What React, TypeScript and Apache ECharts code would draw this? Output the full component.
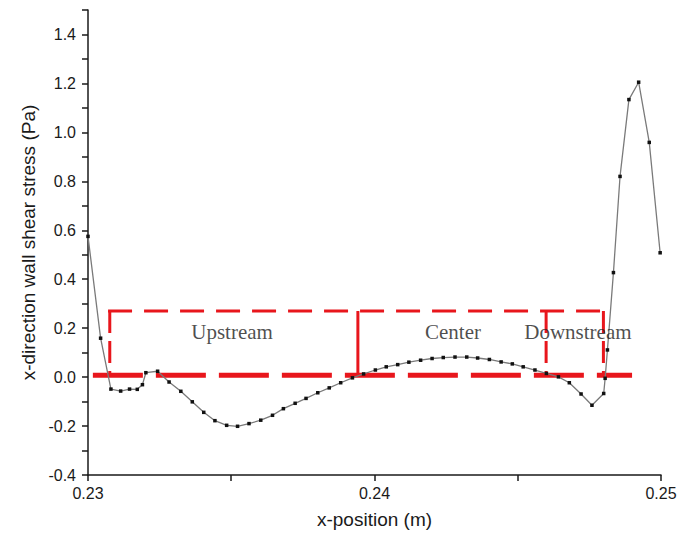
import React, { useEffect, useRef } from "react";
import * as echarts from "echarts";

// x-position (m) of each sampled wall point
const xPositions = [
  0.23, 0.23044, 0.2308, 0.23114, 0.23145, 0.23172, 0.2319, 0.23202, 0.23243, 0.23283,
  0.23324, 0.23364, 0.23404, 0.23443, 0.23484, 0.23522, 0.23562, 0.23603, 0.23644, 0.23682,
  0.23723, 0.23761, 0.23802, 0.23842, 0.23882, 0.23923, 0.23962, 0.24003, 0.24041, 0.24081,
  0.2412, 0.24161, 0.24201, 0.2424, 0.24281, 0.24322, 0.2436, 0.24401, 0.24442, 0.24481,
  0.24519, 0.2456, 0.246, 0.24642, 0.2468, 0.24721, 0.24759, 0.248, 0.24805, 0.24813,
  0.24834, 0.24857, 0.24888, 0.24922, 0.24959, 0.24997,
];

// x-direction wall shear stress (Pa)
const shearStress = [
  0.575, 0.159, -0.049, -0.057, -0.049, -0.05, -0.031, 0.018, 0.024, -0.02,
  -0.058, -0.101, -0.144, -0.178, -0.197, -0.201, -0.19, -0.176, -0.156, -0.129,
  -0.107, -0.087, -0.064, -0.044, -0.023, -0.003, 0.013, 0.029, 0.042, 0.051,
  0.061, 0.069, 0.076, 0.08, 0.082, 0.082, 0.078, 0.072, 0.062, 0.054,
  0.042, 0.029, 0.015, 0.001, -0.023, -0.069, -0.115, -0.067, -0.005, 0.111,
  0.427, 0.82, 1.134, 1.205, 0.959, 0.508,
];

// Region annotation boxes (data coordinates)
const boxTop = 0.27;
const boxBottom = 0.008;
const boxTopExtent = [0.2307, 0.24801];
const baselineExtent = [0.23017, 0.24899];
const dividerX = [0.23076, 0.23942, 0.24599, 0.24799];
const dividerDashed = [true, false, true, true];
const regionNames = ["Upstream", "Center", "Downstream"];
const regionLabelX = [0.23503, 0.24274, 0.2471];
const regionLabelY = 0.184;

const RED = "#e8161c";
const AXIS = "#1a1a1a";

export default function App() {
  const ref = useRef<HTMLDivElement>(null);

  useEffect(() => {
    if (!ref.current) return;
    const chart = echarts.init(ref.current, null, { renderer: "svg" });

    const curve = xPositions.map((x, i) => [x, shearStress[i]]);

    const redSeries: any[] = [
      {
        type: "line",
        data: [
          [boxTopExtent[0], boxTop],
          [boxTopExtent[1], boxTop],
        ],
        symbol: "none",
        lineStyle: { color: RED, width: 3, type: [24, 12] },
        z: 2,
      },
      {
        type: "line",
        data: [
          [baselineExtent[0], boxBottom],
          [baselineExtent[1], boxBottom],
        ],
        symbol: "none",
        lineStyle: { color: RED, width: 5, type: [50, 13] },
        z: 2,
      },
      ...dividerX.map((x, i) => ({
        type: "line",
        data: [
          [x, boxTop],
          [x, boxBottom],
        ],
        symbol: "none",
        lineStyle: {
          color: RED,
          width: 3,
          type: dividerDashed[i] ? [22, 8] : "solid",
        },
        z: 2,
      })),
    ];

    chart.setOption({
      animation: false,
      backgroundColor: "#ffffff",
      grid: { left: 88, right: 19, top: 10, bottom: 60 },
      xAxis: {
        type: "value",
        min: 0.23,
        max: 0.25,
        interval: 0.005,
        name: "x-position (m)",
        nameLocation: "middle",
        nameGap: 35,
        nameTextStyle: { fontFamily: "Liberation Sans", fontSize: 19, color: "#1a1a1a" },
        axisLine: { show: true, onZero: false, lineStyle: { color: AXIS, width: 1.5 } },
        axisTick: { show: true, length: 6, lineStyle: { color: AXIS, width: 1.5 } },
        splitLine: { show: false },
        axisLabel: {
          margin: 10,
          fontFamily: "Liberation Sans",
          fontSize: 16,
          color: "#1a1a1a",
          formatter: (v: number) => (Math.round(v * 1000) % 10 === 0 ? v.toFixed(2) : ""),
        },
      },
      yAxis: {
        type: "value",
        min: -0.4,
        max: 1.5,
        interval: 0.1,
        name: "x-direction wall shear stress (Pa)",
        nameLocation: "middle",
        nameGap: 40,
        nameTextStyle: { fontFamily: "Liberation Sans", fontSize: 19, color: "#1a1a1a" },
        axisLine: { show: true, onZero: false, lineStyle: { color: AXIS, width: 1.5 } },
        axisTick: { show: true, length: 6, lineStyle: { color: AXIS, width: 1.5 } },
        splitLine: { show: false },
        axisLabel: {
          margin: 12,
          fontFamily: "Liberation Sans",
          fontSize: 16,
          color: "#1a1a1a",
          formatter: (v: number) => {
            const k = Math.round(v * 10);
            return Math.abs(k) % 2 === 0 && k <= 14 ? v.toFixed(1) : "";
          },
        },
      },
      series: [
        ...redSeries,
        {
          type: "line",
          data: curve,
          symbol: "rect",
          symbolSize: 3.5,
          itemStyle: { color: "#111111" },
          lineStyle: { color: "#7a7a7a", width: 1.3 },
          z: 5,
        },
        {
          type: "scatter",
          data: regionNames.map((n, i) => [regionLabelX[i], regionLabelY, n]),
          symbolSize: 1,
          itemStyle: { color: "rgba(0,0,0,0)" },
          label: {
            show: true,
            position: "inside",
            formatter: (p: any) => p.data[2],
            fontFamily: "Liberation Serif",
            fontSize: 21,
            color: "#1e1e1e",
          },
          z: 6,
        },
      ],
    });

    return () => chart.dispose();
  }, []);

  return (
    <div
      ref={ref}
      style={{ position: "fixed", left: 0, top: 0, width: 680, height: 535, background: "#fff" }}
    />
  );
}
